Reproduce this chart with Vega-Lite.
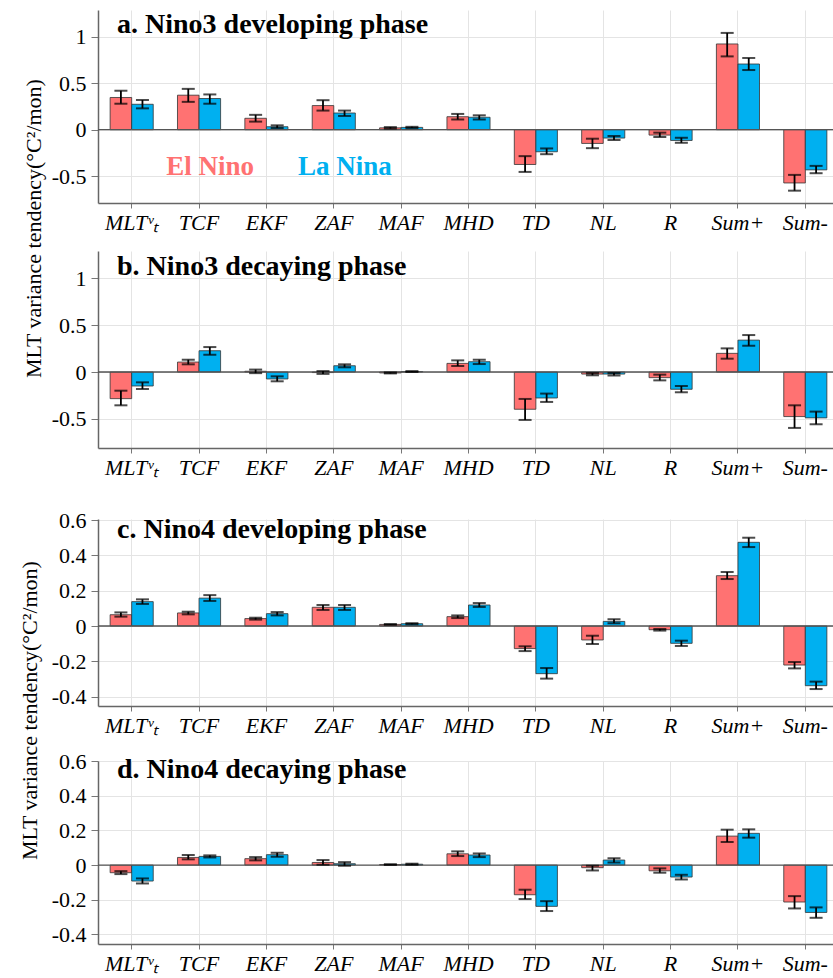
{
  "$schema": "https://vega.github.io/schema/vega-lite/v6.json",
  "padding": {"left": 18, "top": 10, "right": 0, "bottom": 0},
  "background": "white",
  "config": {
    "font": "Liberation Serif",
    "view": {"stroke": null},
    "axis": {"labelFont": "Liberation Serif", "titleFont": "Liberation Serif", "labelColor": "black", "titleColor": "black", "gridColor": "#e4e4e4", "gridWidth": 1, "domainColor": "#666", "domainWidth": 1.5, "tickColor": "#777", "tickWidth": 1},
    "axisX": {"labelFontSize": 22, "labelFontStyle": "italic", "labelAngle": 0, "tickSize": 5, "labelPadding": 4, "bandPosition": 0.5, "grid": true, "title": null},
    "axisY": {"labelFontSize": 22, "tickSize": 7, "labelPadding": 5, "grid": true, "titleFontSize": 22, "titleFontWeight": "normal", "titlePadding": 6, "labelOverlap": false},
    "title": {"anchor": "start", "frame": "group", "font": "Liberation Serif", "fontSize": 28, "fontWeight": "bold", "color": "black", "dx": 19, "baseline": "alphabetic"},
    "tick": {"thickness": 2}
  },
  "datasets": {
    "bars": [
      {"panel": "a", "term": "MLT", "phase": "El Nino", "value": 0.347, "lo": 0.28, "hi": 0.42},
      {"panel": "a", "term": "MLT", "phase": "La Nina", "value": 0.274, "lo": 0.23, "hi": 0.32},
      {"panel": "a", "term": "TCF", "phase": "El Nino", "value": 0.372, "lo": 0.30, "hi": 0.44},
      {"panel": "a", "term": "TCF", "phase": "La Nina", "value": 0.336, "lo": 0.28, "hi": 0.38},
      {"panel": "a", "term": "EKF", "phase": "El Nino", "value": 0.123, "lo": 0.087, "hi": 0.16},
      {"panel": "a", "term": "EKF", "phase": "La Nina", "value": 0.032, "lo": 0.018, "hi": 0.047},
      {"panel": "a", "term": "ZAF", "phase": "El Nino", "value": 0.26, "lo": 0.206, "hi": 0.318},
      {"panel": "a", "term": "ZAF", "phase": "La Nina", "value": 0.18, "lo": 0.148, "hi": 0.206},
      {"panel": "a", "term": "MAF", "phase": "El Nino", "value": 0.02, "lo": 0.012, "hi": 0.028},
      {"panel": "a", "term": "MAF", "phase": "La Nina", "value": 0.025, "lo": 0.017, "hi": 0.031},
      {"panel": "a", "term": "MHD", "phase": "El Nino", "value": 0.14, "lo": 0.11, "hi": 0.17},
      {"panel": "a", "term": "MHD", "phase": "La Nina", "value": 0.134, "lo": 0.11, "hi": 0.155},
      {"panel": "a", "term": "TD", "phase": "El Nino", "value": -0.375, "lo": -0.455, "hi": -0.285},
      {"panel": "a", "term": "TD", "phase": "La Nina", "value": -0.238, "lo": -0.264, "hi": -0.202},
      {"panel": "a", "term": "NL", "phase": "El Nino", "value": -0.148, "lo": -0.199, "hi": -0.097},
      {"panel": "a", "term": "NL", "phase": "La Nina", "value": -0.09, "lo": -0.112, "hi": -0.069},
      {"panel": "a", "term": "R", "phase": "El Nino", "value": -0.058, "lo": -0.079, "hi": -0.032},
      {"panel": "a", "term": "R", "phase": "La Nina", "value": -0.116, "lo": -0.141, "hi": -0.087},
      {"panel": "a", "term": "Sum+", "phase": "El Nino", "value": 0.924, "lo": 0.79, "hi": 1.043},
      {"panel": "a", "term": "Sum+", "phase": "La Nina", "value": 0.708, "lo": 0.643, "hi": 0.773},
      {"panel": "a", "term": "Sum-", "phase": "El Nino", "value": -0.574, "lo": -0.657, "hi": -0.487},
      {"panel": "a", "term": "Sum-", "phase": "La Nina", "value": -0.433, "lo": -0.469, "hi": -0.39},

      {"panel": "b", "term": "MLT", "phase": "El Nino", "value": -0.284, "lo": -0.355, "hi": -0.199},
      {"panel": "b", "term": "MLT", "phase": "La Nina", "value": -0.149, "lo": -0.181, "hi": -0.11},
      {"panel": "b", "term": "TCF", "phase": "El Nino", "value": 0.106, "lo": 0.082, "hi": 0.131},
      {"panel": "b", "term": "TCF", "phase": "La Nina", "value": 0.227, "lo": 0.184, "hi": 0.266},
      {"panel": "b", "term": "EKF", "phase": "El Nino", "value": 0.008, "lo": -0.012, "hi": 0.026},
      {"panel": "b", "term": "EKF", "phase": "La Nina", "value": -0.074, "lo": -0.099, "hi": -0.046},
      {"panel": "b", "term": "ZAF", "phase": "El Nino", "value": -0.006, "lo": -0.02, "hi": 0.01},
      {"panel": "b", "term": "ZAF", "phase": "La Nina", "value": 0.067, "lo": 0.05, "hi": 0.082},
      {"panel": "b", "term": "MAF", "phase": "El Nino", "value": -0.01, "lo": -0.015, "hi": -0.005},
      {"panel": "b", "term": "MAF", "phase": "La Nina", "value": 0.005, "lo": 0.0, "hi": 0.01},
      {"panel": "b", "term": "MHD", "phase": "El Nino", "value": 0.092, "lo": 0.064, "hi": 0.124},
      {"panel": "b", "term": "MHD", "phase": "La Nina", "value": 0.11, "lo": 0.085, "hi": 0.131},
      {"panel": "b", "term": "TD", "phase": "El Nino", "value": -0.397, "lo": -0.511, "hi": -0.287},
      {"panel": "b", "term": "TD", "phase": "La Nina", "value": -0.277, "lo": -0.319, "hi": -0.23},
      {"panel": "b", "term": "NL", "phase": "El Nino", "value": -0.022, "lo": -0.035, "hi": -0.011},
      {"panel": "b", "term": "NL", "phase": "La Nina", "value": -0.022, "lo": -0.037, "hi": -0.011},
      {"panel": "b", "term": "R", "phase": "El Nino", "value": -0.06, "lo": -0.089, "hi": -0.028},
      {"panel": "b", "term": "R", "phase": "La Nina", "value": -0.184, "lo": -0.216, "hi": -0.149},
      {"panel": "b", "term": "Sum+", "phase": "El Nino", "value": 0.199, "lo": 0.142, "hi": 0.252},
      {"panel": "b", "term": "Sum+", "phase": "La Nina", "value": 0.34, "lo": 0.28, "hi": 0.394},
      {"panel": "b", "term": "Sum-", "phase": "El Nino", "value": -0.475, "lo": -0.596, "hi": -0.355},
      {"panel": "b", "term": "Sum-", "phase": "La Nina", "value": -0.489, "lo": -0.557, "hi": -0.422},

      {"panel": "c", "term": "MLT", "phase": "El Nino", "value": 0.064, "lo": 0.053, "hi": 0.077},
      {"panel": "c", "term": "MLT", "phase": "La Nina", "value": 0.138, "lo": 0.125, "hi": 0.151},
      {"panel": "c", "term": "TCF", "phase": "El Nino", "value": 0.074, "lo": 0.066, "hi": 0.081},
      {"panel": "c", "term": "TCF", "phase": "La Nina", "value": 0.158, "lo": 0.142, "hi": 0.175},
      {"panel": "c", "term": "EKF", "phase": "El Nino", "value": 0.042, "lo": 0.036, "hi": 0.047},
      {"panel": "c", "term": "EKF", "phase": "La Nina", "value": 0.07, "lo": 0.06, "hi": 0.079},
      {"panel": "c", "term": "ZAF", "phase": "El Nino", "value": 0.106, "lo": 0.091, "hi": 0.119},
      {"panel": "c", "term": "ZAF", "phase": "La Nina", "value": 0.106, "lo": 0.091, "hi": 0.119},
      {"panel": "c", "term": "MAF", "phase": "El Nino", "value": 0.009, "lo": 0.007, "hi": 0.011},
      {"panel": "c", "term": "MAF", "phase": "La Nina", "value": 0.013, "lo": 0.01, "hi": 0.016},
      {"panel": "c", "term": "MHD", "phase": "El Nino", "value": 0.053, "lo": 0.045, "hi": 0.06},
      {"panel": "c", "term": "MHD", "phase": "La Nina", "value": 0.119, "lo": 0.108, "hi": 0.13},
      {"panel": "c", "term": "TD", "phase": "El Nino", "value": -0.128, "lo": -0.142, "hi": -0.115},
      {"panel": "c", "term": "TD", "phase": "La Nina", "value": -0.27, "lo": -0.298, "hi": -0.238},
      {"panel": "c", "term": "NL", "phase": "El Nino", "value": -0.079, "lo": -0.102, "hi": -0.055},
      {"panel": "c", "term": "NL", "phase": "La Nina", "value": 0.026, "lo": 0.015, "hi": 0.038},
      {"panel": "c", "term": "R", "phase": "El Nino", "value": -0.021, "lo": -0.026, "hi": -0.017},
      {"panel": "c", "term": "R", "phase": "La Nina", "value": -0.098, "lo": -0.113, "hi": -0.083},
      {"panel": "c", "term": "Sum+", "phase": "El Nino", "value": 0.285, "lo": 0.266, "hi": 0.306},
      {"panel": "c", "term": "Sum+", "phase": "La Nina", "value": 0.474, "lo": 0.447, "hi": 0.5},
      {"panel": "c", "term": "Sum-", "phase": "El Nino", "value": -0.221, "lo": -0.24, "hi": -0.204},
      {"panel": "c", "term": "Sum-", "phase": "La Nina", "value": -0.338, "lo": -0.357, "hi": -0.315},

      {"panel": "d", "term": "MLT", "phase": "El Nino", "value": -0.044, "lo": -0.052, "hi": -0.035},
      {"panel": "d", "term": "MLT", "phase": "La Nina", "value": -0.092, "lo": -0.106, "hi": -0.077},
      {"panel": "d", "term": "TCF", "phase": "El Nino", "value": 0.044, "lo": 0.033, "hi": 0.058},
      {"panel": "d", "term": "TCF", "phase": "La Nina", "value": 0.05, "lo": 0.044, "hi": 0.056},
      {"panel": "d", "term": "EKF", "phase": "El Nino", "value": 0.037, "lo": 0.027, "hi": 0.046},
      {"panel": "d", "term": "EKF", "phase": "La Nina", "value": 0.06, "lo": 0.048, "hi": 0.071},
      {"panel": "d", "term": "ZAF", "phase": "El Nino", "value": 0.015, "lo": 0.002, "hi": 0.029},
      {"panel": "d", "term": "ZAF", "phase": "La Nina", "value": 0.008, "lo": -0.004, "hi": 0.017},
      {"panel": "d", "term": "MAF", "phase": "El Nino", "value": 0.003, "lo": 0.001, "hi": 0.005},
      {"panel": "d", "term": "MAF", "phase": "La Nina", "value": 0.005, "lo": 0.002, "hi": 0.008},
      {"panel": "d", "term": "MHD", "phase": "El Nino", "value": 0.065, "lo": 0.052, "hi": 0.079},
      {"panel": "d", "term": "MHD", "phase": "La Nina", "value": 0.058, "lo": 0.046, "hi": 0.067},
      {"panel": "d", "term": "TD", "phase": "El Nino", "value": -0.171, "lo": -0.196, "hi": -0.142},
      {"panel": "d", "term": "TD", "phase": "La Nina", "value": -0.238, "lo": -0.265, "hi": -0.208},
      {"panel": "d", "term": "NL", "phase": "El Nino", "value": -0.015, "lo": -0.031, "hi": -0.004},
      {"panel": "d", "term": "NL", "phase": "La Nina", "value": 0.029, "lo": 0.015, "hi": 0.04},
      {"panel": "d", "term": "R", "phase": "El Nino", "value": -0.033, "lo": -0.044, "hi": -0.019},
      {"panel": "d", "term": "R", "phase": "La Nina", "value": -0.069, "lo": -0.083, "hi": -0.056},
      {"panel": "d", "term": "Sum+", "phase": "El Nino", "value": 0.167, "lo": 0.133, "hi": 0.204},
      {"panel": "d", "term": "Sum+", "phase": "La Nina", "value": 0.183, "lo": 0.158, "hi": 0.206},
      {"panel": "d", "term": "Sum-", "phase": "El Nino", "value": -0.213, "lo": -0.25, "hi": -0.179},
      {"panel": "d", "term": "Sum-", "phase": "La Nina", "value": -0.273, "lo": -0.304, "hi": -0.244}
    ],
    "labels": [
      {"term": "TCF", "phase": "El Nino", "y": -0.486, "label": "El Nino"},
      {"term": "ZAF", "phase": "La Nina", "y": -0.486, "label": "La Nina"}
    ]
  },
  "vconcat": [
    {
      "vconcat": [
        {
          "width": 741, "height": 193,
          "title": {"text": "a. Nino3 developing phase", "offset": -29},
          "layer": [
            {
              "data": {"name": "bars"},
              "transform": [{"filter": "datum.panel == 'a'"}],
              "mark": {"type": "bar", "stroke": "#333", "strokeWidth": 0.8},
              "encoding": {
                "x": {"field": "term", "type": "nominal", "sort": ["MLT", "TCF", "EKF", "ZAF", "MAF", "MHD", "TD", "NL", "R", "Sum+", "Sum-"], "scale": {"paddingInner": 0.36, "paddingOuter": 0.18}, "axis": {"labelExpr": "datum.value == 'MLT' ? 'MLTᵛₜ' : datum.value"}},
                "xOffset": {"field": "phase", "type": "nominal", "sort": ["El Nino", "La Nina"]},
                "y": {"field": "value", "type": "quantitative", "title": "MLT variance tendency(°C²/mon)", "scale": {"domain": [-0.79, 1.29], "nice": false, "zero": false}, "axis": {"values": [-0.5, 0, 0.5, 1], "titleY": 218, "labelOverlap": false, "labelExpr": "datum.value < 0 ? '-' + format(-datum.value, '~g') : format(datum.value, '~g')"}},
                "color": {"field": "phase", "type": "nominal", "scale": {"domain": ["El Nino", "La Nina"], "range": ["#FF7272", "#00B0F0"]}, "legend": null}
              }
            },
            {
              "data": {"values": [{"z": 0}]},
              "mark": {"type": "rule", "color": "#555", "strokeWidth": 1.3},
              "encoding": {"y": {"field": "z", "type": "quantitative", "title": "MLT variance tendency(°C²/mon)", "axis": {"values": [-0.5, 0, 0.5, 1], "titleY": 218, "labelOverlap": false, "labelExpr": "datum.value < 0 ? '-' + format(-datum.value, '~g') : format(datum.value, '~g')"}}}
            },
            {
              "data": {"name": "bars"},
              "transform": [{"filter": "datum.panel == 'a'"}],
              "mark": {"type": "rule", "color": "black", "strokeWidth": 1.8},
              "encoding": {
                "x": {"field": "term", "type": "nominal", "sort": ["MLT", "TCF", "EKF", "ZAF", "MAF", "MHD", "TD", "NL", "R", "Sum+", "Sum-"]},
                "xOffset": {"field": "phase", "type": "nominal", "sort": ["El Nino", "La Nina"]},
                "y": {"field": "lo", "type": "quantitative", "title": "MLT variance tendency(°C²/mon)", "axis": {"values": [-0.5, 0, 0.5, 1], "titleY": 218, "labelOverlap": false, "labelExpr": "datum.value < 0 ? '-' + format(-datum.value, '~g') : format(datum.value, '~g')"}},
                "y2": {"field": "hi"}
              }
            },
            {
              "data": {"name": "bars"},
              "transform": [{"filter": "datum.panel == 'a'"}],
              "mark": {"type": "tick", "color": "black", "thickness": 2, "size": 13, "orient": "horizontal"},
              "encoding": {
                "x": {"field": "term", "type": "nominal", "sort": ["MLT", "TCF", "EKF", "ZAF", "MAF", "MHD", "TD", "NL", "R", "Sum+", "Sum-"]},
                "xOffset": {"field": "phase", "type": "nominal", "sort": ["El Nino", "La Nina"]},
                "y": {"field": "lo", "type": "quantitative", "title": "MLT variance tendency(°C²/mon)", "axis": {"values": [-0.5, 0, 0.5, 1], "titleY": 218, "labelOverlap": false, "labelExpr": "datum.value < 0 ? '-' + format(-datum.value, '~g') : format(datum.value, '~g')"}}
              }
            },
            {
              "data": {"name": "bars"},
              "transform": [{"filter": "datum.panel == 'a'"}],
              "mark": {"type": "tick", "color": "black", "thickness": 2, "size": 13, "orient": "horizontal"},
              "encoding": {
                "x": {"field": "term", "type": "nominal", "sort": ["MLT", "TCF", "EKF", "ZAF", "MAF", "MHD", "TD", "NL", "R", "Sum+", "Sum-"]},
                "xOffset": {"field": "phase", "type": "nominal", "sort": ["El Nino", "La Nina"]},
                "y": {"field": "hi", "type": "quantitative", "title": "MLT variance tendency(°C²/mon)", "axis": {"values": [-0.5, 0, 0.5, 1], "titleY": 218, "labelOverlap": false, "labelExpr": "datum.value < 0 ? '-' + format(-datum.value, '~g') : format(datum.value, '~g')"}}
              }
            },
            {
              "data": {"name": "labels"},
              "mark": {"type": "text", "font": "Liberation Serif", "fontSize": 27, "fontWeight": "bold", "baseline": "alphabetic", "align": "center", "dx": 11},
              "encoding": {
                "x": {"field": "term", "type": "nominal", "sort": ["MLT", "TCF", "EKF", "ZAF", "MAF", "MHD", "TD", "NL", "R", "Sum+", "Sum-"]},
                "y": {"field": "y", "type": "quantitative", "title": "MLT variance tendency(°C²/mon)", "axis": {"values": [-0.5, 0, 0.5, 1], "titleY": 218, "labelOverlap": false, "labelExpr": "datum.value < 0 ? '-' + format(-datum.value, '~g') : format(datum.value, '~g')"}},
                "text": {"field": "label"},
                "color": {"field": "phase", "type": "nominal", "legend": null}
              }
            }
          ]
        },
        {
          "width": 741, "height": 197,
          "title": {"text": "b. Nino3 decaying phase", "offset": -30},
          "layer": [
            {
              "data": {"name": "bars"},
              "transform": [{"filter": "datum.panel == 'b'"}],
              "mark": {"type": "bar", "stroke": "#333", "strokeWidth": 0.8},
              "encoding": {
                "x": {"field": "term", "type": "nominal", "sort": ["MLT", "TCF", "EKF", "ZAF", "MAF", "MHD", "TD", "NL", "R", "Sum+", "Sum-"], "scale": {"paddingInner": 0.36, "paddingOuter": 0.18}, "axis": {"labelExpr": "datum.value == 'MLT' ? 'MLTᵛₜ' : datum.value"}},
                "xOffset": {"field": "phase", "type": "nominal", "sort": ["El Nino", "La Nina"]},
                "y": {"field": "value", "type": "quantitative", "title": null, "scale": {"domain": [-0.81, 1.29], "nice": false, "zero": false}, "axis": {"values": [-0.5, 0, 0.5, 1], "labelOverlap": false, "labelExpr": "datum.value < 0 ? '-' + format(-datum.value, '~g') : format(datum.value, '~g')"}},
                "color": {"field": "phase", "type": "nominal", "scale": {"domain": ["El Nino", "La Nina"], "range": ["#FF7272", "#00B0F0"]}, "legend": null}
              }
            },
            {
              "data": {"values": [{"z": 0}]},
              "mark": {"type": "rule", "color": "#555", "strokeWidth": 1.3},
              "encoding": {"y": {"field": "z", "type": "quantitative", "title": null, "axis": {"values": [-0.5, 0, 0.5, 1], "labelOverlap": false, "labelExpr": "datum.value < 0 ? '-' + format(-datum.value, '~g') : format(datum.value, '~g')"}}}
            },
            {
              "data": {"name": "bars"},
              "transform": [{"filter": "datum.panel == 'b'"}],
              "mark": {"type": "rule", "color": "black", "strokeWidth": 1.8},
              "encoding": {
                "x": {"field": "term", "type": "nominal", "sort": ["MLT", "TCF", "EKF", "ZAF", "MAF", "MHD", "TD", "NL", "R", "Sum+", "Sum-"]},
                "xOffset": {"field": "phase", "type": "nominal", "sort": ["El Nino", "La Nina"]},
                "y": {"field": "lo", "type": "quantitative", "title": null, "axis": {"values": [-0.5, 0, 0.5, 1], "labelOverlap": false, "labelExpr": "datum.value < 0 ? '-' + format(-datum.value, '~g') : format(datum.value, '~g')"}},
                "y2": {"field": "hi"}
              }
            },
            {
              "data": {"name": "bars"},
              "transform": [{"filter": "datum.panel == 'b'"}],
              "mark": {"type": "tick", "color": "black", "thickness": 2, "size": 13, "orient": "horizontal"},
              "encoding": {
                "x": {"field": "term", "type": "nominal", "sort": ["MLT", "TCF", "EKF", "ZAF", "MAF", "MHD", "TD", "NL", "R", "Sum+", "Sum-"]},
                "xOffset": {"field": "phase", "type": "nominal", "sort": ["El Nino", "La Nina"]},
                "y": {"field": "lo", "type": "quantitative", "title": null, "axis": {"values": [-0.5, 0, 0.5, 1], "labelOverlap": false, "labelExpr": "datum.value < 0 ? '-' + format(-datum.value, '~g') : format(datum.value, '~g')"}}
              }
            },
            {
              "data": {"name": "bars"},
              "transform": [{"filter": "datum.panel == 'b'"}],
              "mark": {"type": "tick", "color": "black", "thickness": 2, "size": 13, "orient": "horizontal"},
              "encoding": {
                "x": {"field": "term", "type": "nominal", "sort": ["MLT", "TCF", "EKF", "ZAF", "MAF", "MHD", "TD", "NL", "R", "Sum+", "Sum-"]},
                "xOffset": {"field": "phase", "type": "nominal", "sort": ["El Nino", "La Nina"]},
                "y": {"field": "hi", "type": "quantitative", "title": null, "axis": {"values": [-0.5, 0, 0.5, 1], "labelOverlap": false, "labelExpr": "datum.value < 0 ? '-' + format(-datum.value, '~g') : format(datum.value, '~g')"}}
              }
            }
          ]
        }
      ],
      "spacing": 48,
      "bounds": "flush"
    },
    {
      "vconcat": [
        {
          "width": 741, "height": 187,
          "title": {"text": "c. Nino4 developing phase", "offset": -35},
          "layer": [
            {
              "data": {"name": "bars"},
              "transform": [{"filter": "datum.panel == 'c'"}],
              "mark": {"type": "bar", "stroke": "#333", "strokeWidth": 0.8},
              "encoding": {
                "x": {"field": "term", "type": "nominal", "sort": ["MLT", "TCF", "EKF", "ZAF", "MAF", "MHD", "TD", "NL", "R", "Sum+", "Sum-"], "scale": {"paddingInner": 0.36, "paddingOuter": 0.18}, "axis": {"labelExpr": "datum.value == 'MLT' ? 'MLTᵛₜ' : datum.value"}},
                "xOffset": {"field": "phase", "type": "nominal", "sort": ["El Nino", "La Nina"]},
                "y": {"field": "value", "type": "quantitative", "title": "MLT variance tendency(°C²/mon)", "scale": {"domain": [-0.453, 0.606], "nice": false, "zero": false}, "axis": {"values": [-0.4, -0.2, 0, 0.2, 0.4, 0.6], "tickCount": 6, "titleY": 191, "titlePadding": 10, "labelOverlap": false, "labelExpr": "datum.value < 0 ? '-' + format(-datum.value, '~g') : format(datum.value, '~g')"}},
                "color": {"field": "phase", "type": "nominal", "scale": {"domain": ["El Nino", "La Nina"], "range": ["#FF7272", "#00B0F0"]}, "legend": null}
              }
            },
            {
              "data": {"values": [{"z": 0}]},
              "mark": {"type": "rule", "color": "#555", "strokeWidth": 1.3},
              "encoding": {"y": {"field": "z", "type": "quantitative", "title": "MLT variance tendency(°C²/mon)", "axis": {"values": [-0.4, -0.2, 0, 0.2, 0.4, 0.6], "tickCount": 6, "titleY": 191, "titlePadding": 10, "labelOverlap": false, "labelExpr": "datum.value < 0 ? '-' + format(-datum.value, '~g') : format(datum.value, '~g')"}}}
            },
            {
              "data": {"name": "bars"},
              "transform": [{"filter": "datum.panel == 'c'"}],
              "mark": {"type": "rule", "color": "black", "strokeWidth": 1.8},
              "encoding": {
                "x": {"field": "term", "type": "nominal", "sort": ["MLT", "TCF", "EKF", "ZAF", "MAF", "MHD", "TD", "NL", "R", "Sum+", "Sum-"]},
                "xOffset": {"field": "phase", "type": "nominal", "sort": ["El Nino", "La Nina"]},
                "y": {"field": "lo", "type": "quantitative", "title": "MLT variance tendency(°C²/mon)", "axis": {"values": [-0.4, -0.2, 0, 0.2, 0.4, 0.6], "tickCount": 6, "titleY": 191, "titlePadding": 10, "labelOverlap": false, "labelExpr": "datum.value < 0 ? '-' + format(-datum.value, '~g') : format(datum.value, '~g')"}},
                "y2": {"field": "hi"}
              }
            },
            {
              "data": {"name": "bars"},
              "transform": [{"filter": "datum.panel == 'c'"}],
              "mark": {"type": "tick", "color": "black", "thickness": 2, "size": 13, "orient": "horizontal"},
              "encoding": {
                "x": {"field": "term", "type": "nominal", "sort": ["MLT", "TCF", "EKF", "ZAF", "MAF", "MHD", "TD", "NL", "R", "Sum+", "Sum-"]},
                "xOffset": {"field": "phase", "type": "nominal", "sort": ["El Nino", "La Nina"]},
                "y": {"field": "lo", "type": "quantitative", "title": "MLT variance tendency(°C²/mon)", "axis": {"values": [-0.4, -0.2, 0, 0.2, 0.4, 0.6], "tickCount": 6, "titleY": 191, "titlePadding": 10, "labelOverlap": false, "labelExpr": "datum.value < 0 ? '-' + format(-datum.value, '~g') : format(datum.value, '~g')"}}
              }
            },
            {
              "data": {"name": "bars"},
              "transform": [{"filter": "datum.panel == 'c'"}],
              "mark": {"type": "tick", "color": "black", "thickness": 2, "size": 13, "orient": "horizontal"},
              "encoding": {
                "x": {"field": "term", "type": "nominal", "sort": ["MLT", "TCF", "EKF", "ZAF", "MAF", "MHD", "TD", "NL", "R", "Sum+", "Sum-"]},
                "xOffset": {"field": "phase", "type": "nominal", "sort": ["El Nino", "La Nina"]},
                "y": {"field": "hi", "type": "quantitative", "title": "MLT variance tendency(°C²/mon)", "axis": {"values": [-0.4, -0.2, 0, 0.2, 0.4, 0.6], "tickCount": 6, "titleY": 191, "titlePadding": 10, "labelOverlap": false, "labelExpr": "datum.value < 0 ? '-' + format(-datum.value, '~g') : format(datum.value, '~g')"}}
              }
            }
          ]
        },
        {
          "width": 741, "height": 183,
          "title": {"text": "d. Nino4 decaying phase", "offset": -34},
          "layer": [
            {
              "data": {"name": "bars"},
              "transform": [{"filter": "datum.panel == 'd'"}],
              "mark": {"type": "bar", "stroke": "#333", "strokeWidth": 0.8},
              "encoding": {
                "x": {"field": "term", "type": "nominal", "sort": ["MLT", "TCF", "EKF", "ZAF", "MAF", "MHD", "TD", "NL", "R", "Sum+", "Sum-"], "scale": {"paddingInner": 0.36, "paddingOuter": 0.18}, "axis": {"labelExpr": "datum.value == 'MLT' ? 'MLTᵛₜ' : datum.value"}},
                "xOffset": {"field": "phase", "type": "nominal", "sort": ["El Nino", "La Nina"]},
                "y": {"field": "value", "type": "quantitative", "title": null, "scale": {"domain": [-0.455, 0.6], "nice": false, "zero": false}, "axis": {"values": [-0.4, -0.2, 0, 0.2, 0.4, 0.6], "tickCount": 6, "labelOverlap": false, "labelExpr": "datum.value < 0 ? '-' + format(-datum.value, '~g') : format(datum.value, '~g')"}},
                "color": {"field": "phase", "type": "nominal", "scale": {"domain": ["El Nino", "La Nina"], "range": ["#FF7272", "#00B0F0"]}, "legend": null}
              }
            },
            {
              "data": {"values": [{"z": 0}]},
              "mark": {"type": "rule", "color": "#555", "strokeWidth": 1.3},
              "encoding": {"y": {"field": "z", "type": "quantitative", "title": null, "axis": {"values": [-0.4, -0.2, 0, 0.2, 0.4, 0.6], "tickCount": 6, "labelOverlap": false, "labelExpr": "datum.value < 0 ? '-' + format(-datum.value, '~g') : format(datum.value, '~g')"}}}
            },
            {
              "data": {"name": "bars"},
              "transform": [{"filter": "datum.panel == 'd'"}],
              "mark": {"type": "rule", "color": "black", "strokeWidth": 1.8},
              "encoding": {
                "x": {"field": "term", "type": "nominal", "sort": ["MLT", "TCF", "EKF", "ZAF", "MAF", "MHD", "TD", "NL", "R", "Sum+", "Sum-"]},
                "xOffset": {"field": "phase", "type": "nominal", "sort": ["El Nino", "La Nina"]},
                "y": {"field": "lo", "type": "quantitative", "title": null, "axis": {"values": [-0.4, -0.2, 0, 0.2, 0.4, 0.6], "tickCount": 6, "labelOverlap": false, "labelExpr": "datum.value < 0 ? '-' + format(-datum.value, '~g') : format(datum.value, '~g')"}},
                "y2": {"field": "hi"}
              }
            },
            {
              "data": {"name": "bars"},
              "transform": [{"filter": "datum.panel == 'd'"}],
              "mark": {"type": "tick", "color": "black", "thickness": 2, "size": 13, "orient": "horizontal"},
              "encoding": {
                "x": {"field": "term", "type": "nominal", "sort": ["MLT", "TCF", "EKF", "ZAF", "MAF", "MHD", "TD", "NL", "R", "Sum+", "Sum-"]},
                "xOffset": {"field": "phase", "type": "nominal", "sort": ["El Nino", "La Nina"]},
                "y": {"field": "lo", "type": "quantitative", "title": null, "axis": {"values": [-0.4, -0.2, 0, 0.2, 0.4, 0.6], "tickCount": 6, "labelOverlap": false, "labelExpr": "datum.value < 0 ? '-' + format(-datum.value, '~g') : format(datum.value, '~g')"}}
              }
            },
            {
              "data": {"name": "bars"},
              "transform": [{"filter": "datum.panel == 'd'"}],
              "mark": {"type": "tick", "color": "black", "thickness": 2, "size": 13, "orient": "horizontal"},
              "encoding": {
                "x": {"field": "term", "type": "nominal", "sort": ["MLT", "TCF", "EKF", "ZAF", "MAF", "MHD", "TD", "NL", "R", "Sum+", "Sum-"]},
                "xOffset": {"field": "phase", "type": "nominal", "sort": ["El Nino", "La Nina"]},
                "y": {"field": "hi", "type": "quantitative", "title": null, "axis": {"values": [-0.4, -0.2, 0, 0.2, 0.4, 0.6], "tickCount": 6, "labelOverlap": false, "labelExpr": "datum.value < 0 ? '-' + format(-datum.value, '~g') : format(datum.value, '~g')"}}
              }
            }
          ]
        }
      ],
      "spacing": 55,
      "bounds": "flush"
    }
  ],
  "spacing": 31,
  "bounds": "full"
}
